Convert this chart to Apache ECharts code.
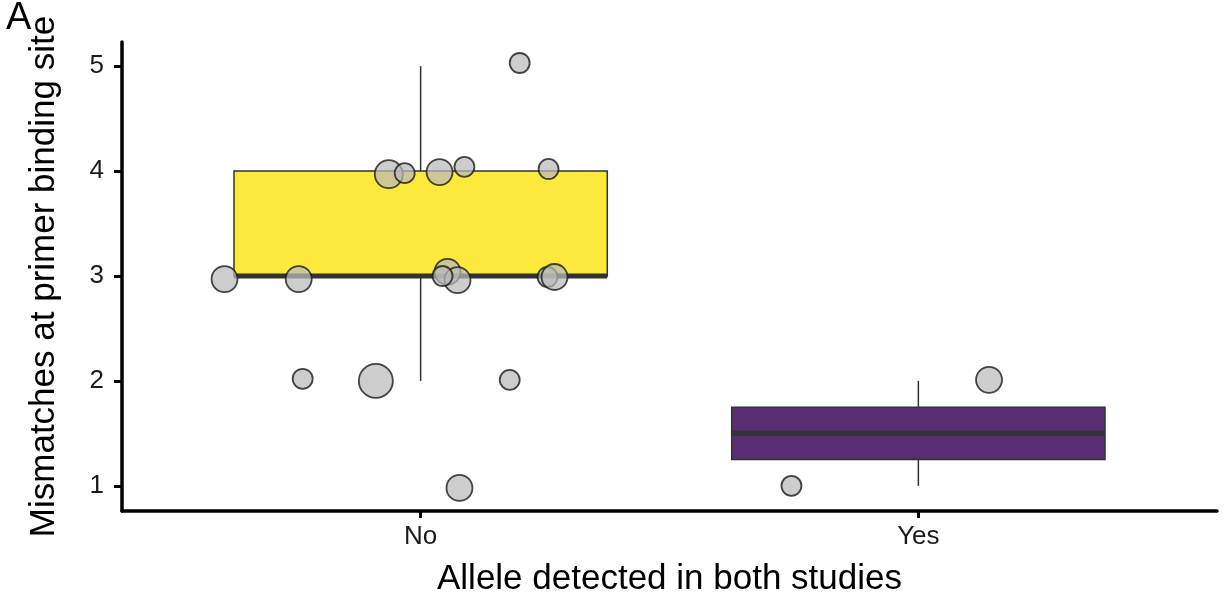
<!DOCTYPE html>
<html>
<head>
<meta charset="utf-8">
<title>Mismatches at primer binding site</title>
<script src="https://cdn.jsdelivr.net/npm/echarts@6/dist/echarts.min.js"></script>
<style>
  html, body { margin: 0; padding: 0; background: #fff; }
  #chart { width: 1225px; height: 592px; }
</style>
</head>
<body>
<div id="chart"></div>
<script>
// categories sit at x = 1, 2 on a continuous axis (ggplot-style discrete scale)
var categories = ['No', 'Yes'];
var categoryPos = [1, 2];
var yTicks = [1, 2, 3, 4, 5];

// box stats: [x, min, q1, median, q3, max]
var boxStats = [
  [1, 2, 3, 3, 4, 5],
  [2, 1, 1.25, 1.5, 1.75, 2]
];
var boxColors = ['#FDE93B', '#5A2D72'];

// jittered points: x, mismatches, count
var pointX = [1.199, 0.936, 0.968, 1.038, 1.088, 1.257, 0.606, 0.755, 1.054, 1.074, 1.044, 1.255, 1.269, 0.763, 0.910, 1.179, 1.078, 1.745, 2.142];
var pointY = [5.03, 3.97, 3.98, 3.99, 4.04, 4.02, 2.97, 2.97, 3.04, 2.96, 3.00, 2.99, 2.99, 2.02, 2.00, 2.01, 0.98, 1.00, 2.01];
var pointN = [1, 3, 1, 2, 1, 1, 2, 2, 2, 2, 1, 1, 2, 1, 4, 1, 2, 1, 2];

var sizeByN = { 1: 20, 2: 26, 3: 28, 4: 34 };
var points = pointX.map(function (x, i) { return [x, pointY[i], pointN[i]]; });

var chart = echarts.init(document.getElementById('chart'));
var boxWidth = 0.75;
var ink = '#333333';
var font = 'Liberation Sans, Arial, sans-serif';

chart.setOption({
  animation: false,
  textStyle: { fontFamily: font },
  grid: { left: 122, right: 8, top: 42, bottom: 81, outerBoundsMode: 'none', containLabel: false },
  graphic: [{
    type: 'text', left: 6, top: 0,
    style: { text: 'A', fontSize: 38, fill: '#000', fontFamily: font }
  }],
  xAxis: {
    type: 'value', min: 0.4, max: 2.6,
    name: 'Allele detected in both studies',
    nameLocation: 'middle', nameGap: 51,
    nameTextStyle: { fontSize: 35, color: '#000' },
    splitLine: { show: false },
    axisLine: { show: true, onZero: false, lineStyle: { color: '#000', width: 3.5 } },
    axisTick: { show: true, customValues: categoryPos, length: 7, lineStyle: { color: '#000', width: 3 } },
    axisLabel: {
      customValues: categoryPos, fontSize: 26, color: '#1a1a1a', margin: 13,
      formatter: function (v) { return categories[categoryPos.indexOf(v)] || ''; }
    }
  },
  yAxis: {
    type: 'value', min: 0.76, max: 5.23,
    name: 'Mismatches at primer binding site',
    nameLocation: 'middle', nameGap: 60, nameRotate: 90,
    nameTextStyle: { fontSize: 35, color: '#000' },
    splitLine: { show: false },
    axisLine: { show: true, onZero: false, lineStyle: { color: '#000', width: 3.5 } },
    axisTick: { show: true, customValues: yTicks, length: 8, lineStyle: { color: '#000', width: 3 } },
    axisLabel: { customValues: yTicks, fontSize: 26, color: '#1a1a1a', margin: 18 }
  },
  series: [{
    type: 'custom',
    data: boxStats,
    encode: { x: 0, y: [1, 2, 3, 4, 5] },
    z: 2,
    renderItem: function (params, api) {
      var x = api.value(0);
      var a = api.coord([x - boxWidth / 2, api.value(4)]);
      var b = api.coord([x + boxWidth / 2, api.value(2)]);
      var top = api.coord([x, api.value(5)]);
      var q3 = api.coord([x, api.value(4)]);
      var q1 = api.coord([x, api.value(2)]);
      var bot = api.coord([x, api.value(1)]);
      var med = api.coord([x, api.value(3)]);
      var line = { stroke: ink, lineWidth: 1.5 };
      return {
        type: 'group',
        children: [
          { type: 'line', shape: { x1: top[0], y1: top[1], x2: q3[0], y2: q3[1] }, style: line },
          { type: 'line', shape: { x1: q1[0], y1: q1[1], x2: bot[0], y2: bot[1] }, style: line },
          { type: 'rect', shape: { x: a[0], y: a[1], width: b[0] - a[0], height: b[1] - a[1] },
            style: { fill: boxColors[params.dataIndex], stroke: ink, lineWidth: 1.5 } },
          { type: 'line', shape: { x1: a[0], y1: med[1], x2: b[0], y2: med[1] },
            style: { stroke: ink, lineWidth: 5 } }
        ]
      };
    }
  }, {
    type: 'scatter',
    data: points,
    z: 3,
    symbolSize: function (d) { return sizeByN[d[2]]; },
    itemStyle: { color: 'rgba(186,186,186,0.9)', borderColor: '#1a1a1a', borderWidth: 1.8 }
  }]
});
</script>
</body>
</html>
